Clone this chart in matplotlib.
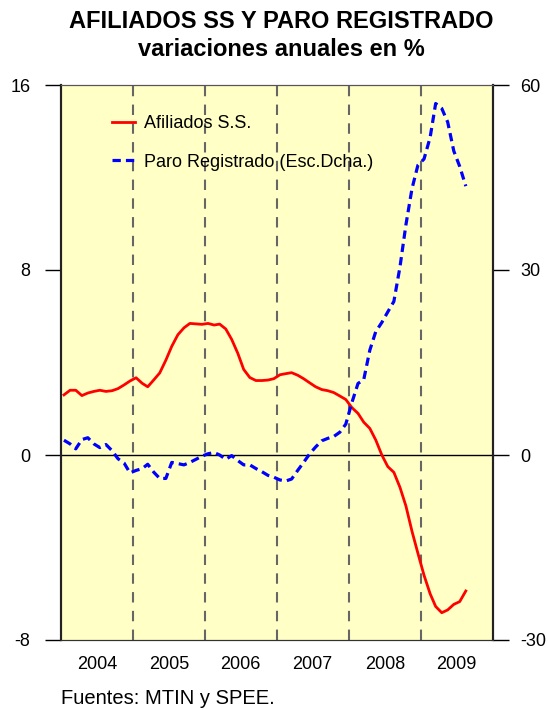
import matplotlib
matplotlib.use("Agg")
import matplotlib.pyplot as plt
import pandas as pd

plt.rcParams['font.family'] = ['Liberation Sans', 'DejaVu Sans']

# Monthly data, Jan 2004 - Aug 2009
afiliados = [2.6, 2.8, 2.8, 2.57, 2.68, 2.75, 2.8, 2.75, 2.78, 2.87, 3.03, 3.2,
             3.34, 3.1, 2.95, 3.25, 3.55, 4.1, 4.7, 5.2, 5.5, 5.69, 5.67, 5.65,
             5.69, 5.62, 5.66, 5.45, 5.0, 4.4, 3.7, 3.35, 3.22, 3.22, 3.24, 3.3,
             3.47, 3.52, 3.56, 3.45, 3.3, 3.12, 2.95, 2.83, 2.78, 2.7, 2.55, 2.4,
             2.05, 1.8, 1.42, 1.15, 0.65, 0.0, -0.5, -0.75, -1.4, -2.2, -3.3, -4.25,
             -5.2, -6.0, -6.55, -6.82, -6.7, -6.46, -6.34, -5.88]
paro = [2.4, 1.8, 1.0, 2.5, 2.8, 1.8, 1.2, 1.7, 0.7, -0.6, -1.3, -2.9,
        -2.5, -2.2, -1.5, -2.8, -3.8, -3.8, -1.2, -1.4, -1.6, -1.2, -0.7, -0.2,
        0.2, 0.4, 0.0, -0.7, -0.1, -0.9, -1.6, -1.6, -2.2, -2.7, -3.3, -3.6,
        -4.05, -4.2, -3.9, -2.5, -1.2, 0.2, 1.3, 2.3, 2.7, 3.0, 3.7, 5.0,
        8.5, 11.6, 12.2, 17.0, 20.0, 21.5, 23.2, 24.9, 30.5, 37.3, 43.2, 47.0,
        48.0, 51.5, 57.0, 56.2, 54.0, 49.3, 46.8, 43.6]
years = [2004, 2005, 2006, 2007, 2008, 2009]
left_ticks = [-8, 0, 8, 16]
right_ticks = [-30, 0, 30, 60]

dates = pd.date_range('2004-01-01', periods=len(afiliados), freq='MS') + pd.Timedelta(days=15)

fig = plt.figure(figsize=(5.48, 7.10), dpi=100)
ax = fig.add_axes([61/548, 1-640/710, 432/548, 555/710])
ax.set_facecolor('#FFFFC6')

ax.set_xlim(pd.Timestamp('2004-01-01'), pd.Timestamp('2010-01-01'))
ax.set_ylim(-8, 16)

for y in years[1:]:
    ax.axvline(pd.Timestamp(f'{y}-01-01'), color='#666666', lw=1.5, ls=(0, (5, 4)), zorder=1)
ax.axhline(0, color='black', lw=1.0, zorder=2)

l1, = ax.plot(dates, afiliados, color='#FF0000', lw=2.0, label='Afiliados S.S.', zorder=4)

ax2 = ax.twinx()
ax2.set_ylim(-30, 60)
l2, = ax2.plot(dates, paro, color='#0000FF', lw=2.3, ls=(0, (2.6, 1.6)),
               label='Paro Registrado (Esc.Dcha.)', zorder=4)

ax.set_yticks(left_ticks)
ax.set_yticklabels([str(t) for t in left_ticks])
ax2.set_yticks(right_ticks)
ax2.set_yticklabels([str(t) for t in right_ticks])

ax.tick_params(axis='y', length=11.5, width=1.0, pad=10.5, labelsize=13, direction='out')
ax2.tick_params(axis='y', length=11.5, width=1.0, pad=8, labelsize=13, direction='out')

ax.set_xticks([pd.Timestamp(f'{y}-07-01') for y in years])
ax.set_xticklabels([str(y) for y in years])
ax.tick_params(axis='x', length=0, pad=11.5, labelsize=13)

for a in (ax, ax2):
    a.spines['top'].set_color('#555555')
    a.spines['bottom'].set_color('#333333')
    a.spines['left'].set_linewidth(1.5)
    a.spines['right'].set_linewidth(1.5)
    a.spines['left'].set_color('#222222')
    a.spines['right'].set_color('#222222')

ax2.legend([l1, l2], ['Afiliados S.S.', 'Paro Registrado (Esc.Dcha.)'],
           loc='upper left', bbox_to_anchor=(0.118, 0.946), frameon=False,
           borderaxespad=0, borderpad=0,
           fontsize=13, handlelength=1.25, handletextpad=0.55, labelspacing=1.2)

fig.text(281/548, 1-22/710, 'AFILIADOS SS Y PARO REGISTRADO', ha='center', va='center',
         fontsize=17, fontweight='bold')
fig.text(281/548, 1-50/710, 'variaciones anuales en %', ha='center', va='center',
         fontsize=17, fontweight='bold')
fig.text(61/548, 1-699/710, 'Fuentes: MTIN y SPEE.', ha='left', va='center', fontsize=14.5)

fig.savefig('out.png', dpi=100)
